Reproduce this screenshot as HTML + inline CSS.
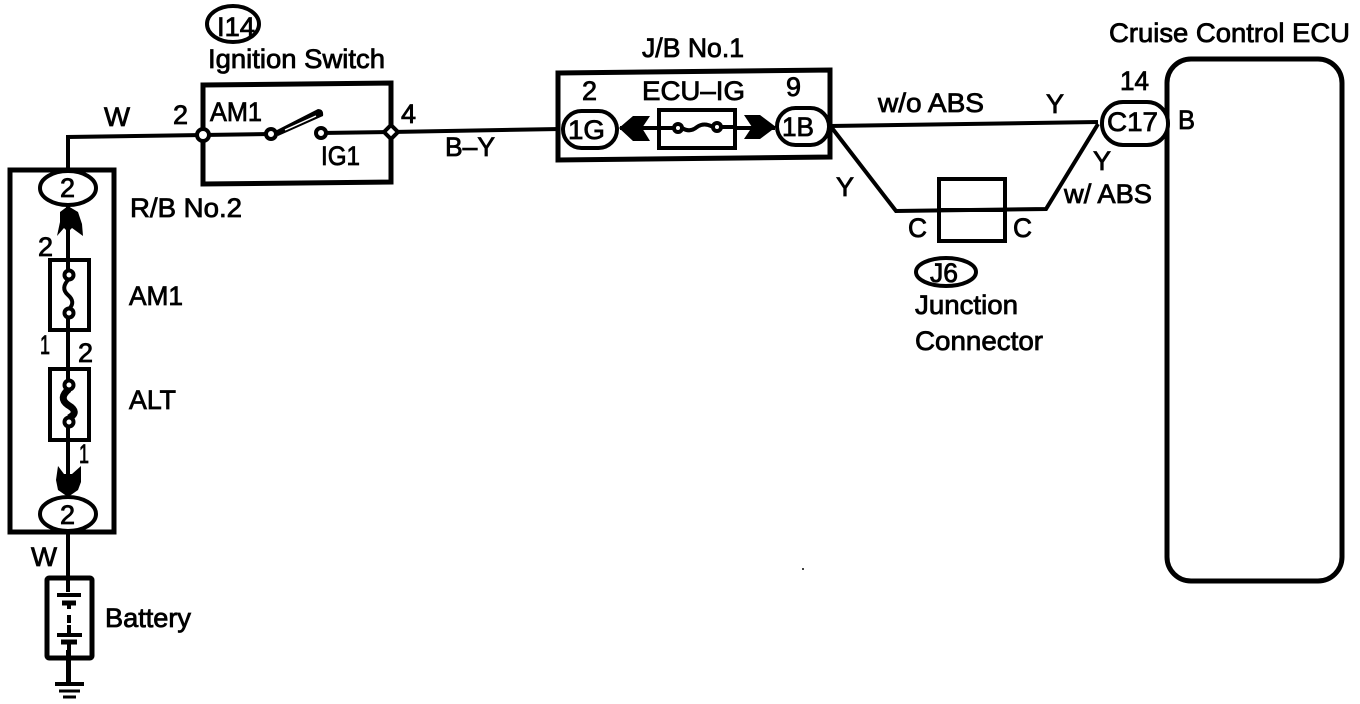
<!DOCTYPE html>
<html><head><meta charset="utf-8"><style>
html,body{margin:0;padding:0;background:#fff;width:1360px;height:704px;overflow:hidden}
svg{display:block}
text{font-family:"Liberation Sans",sans-serif;font-size:27px;fill:#000;stroke:#000;stroke-width:.8}
.l{fill:none;stroke:#000;stroke-width:4;stroke-linejoin:miter}
.w{fill:#fff;stroke:#000;stroke-width:4}
.t{fill:none;stroke:#000;stroke-width:5}
.f{fill:#000;stroke:none}
</style></head><body>
<svg width="1360" height="704" viewBox="0 0 1360 704" xmlns="http://www.w3.org/2000/svg">
<!-- wires -->
<path class="l" d="M68 170V137L203 135"/>
<path class="l" d="M203 135L270 134M321 133L391 132L560 129"/>
<path class="l" d="M68 205V500M68 530V578M68 650V682"/>
<path class="l" d="M620 128H775"/>
<path class="l" d="M830 126L1098 122"/>
<path class="l" d="M832 128L896 211L1046 209L1098 124"/>
<!-- ignition switch -->
<ellipse class="l" cx="233" cy="24" rx="26" ry="18"/>
<path class="t" d="M203 85L391 83V182L203 184Z"/>
<circle class="w" cx="203" cy="135" r="6"/>
<path class="w" d="M391 125L398 132L391 139L384 132Z"/>
<circle class="w" cx="271" cy="134" r="5"/>
<circle class="w" cx="321" cy="133" r="5"/>
<path class="f" d="M275 131L318 109Q324 109 323 116L278 136Z"/>
<path d="M285 130L316 116" stroke="#fff" stroke-width="1.5"/>
<!-- R/B box -->
<path class="t" d="M10 170H114V532H10Z"/>
<ellipse class="w" cx="68" cy="188" rx="28" ry="17" stroke-width="4"/>
<ellipse class="w" cx="68" cy="514" rx="28" ry="17" stroke-width="4"/>
<path class="f" d="M68 206L78 212L82 224L83 236L72 228L68 232L64 228L57 236L60 222L60 212Z"/>
<path class="f" d="M68 497L58 490L56 480L58 466L64 474H72L81 466L81 482L78 490Z"/>
<!-- fuses -->
<rect class="w" x="50" y="260" width="39" height="70"/>
<path class="l" d="M68 240V275M68 313V340"/>
<circle class="w" cx="69" cy="275" r="4.5"/>
<circle class="w" cx="69" cy="313" r="4.5"/>
<path class="l" d="M69 279Q60 288 68 295Q76 302 69 309"/>
<rect class="w" x="50" y="369" width="39" height="71"/>
<path class="l" d="M68 350V385M68 422V470"/>
<path d="M69 389Q58 398 68 405Q80 412 69 418" fill="none" stroke="#000" stroke-width="7"/>
<circle class="w" cx="69" cy="385" r="4.5"/>
<circle class="w" cx="69" cy="422" r="4.5"/>
<!-- battery -->
<rect class="t" x="47" y="578" width="45" height="80" rx="2"/>
<path class="l" d="M68 578V592"/>
<path class="l" d="M57 595H81"/>
<path d="M62 603H76" stroke="#000" stroke-width="5"/>
<path d="M69 605V609M69 615V623" stroke="#000" stroke-width="4"/>
<path class="l" d="M57 635H82M69 625V635"/>
<path d="M61 642H77" stroke="#000" stroke-width="5"/>
<path class="l" d="M69 642V682"/>
<path d="M55 684H84" stroke="#000" stroke-width="4"/>
<path d="M59 691H80" stroke="#000" stroke-width="3"/>
<path d="M63 697H76" stroke="#000" stroke-width="3"/>
<!-- J/B -->
<path class="t" d="M558 73L830 70V157L558 160Z"/>
<rect class="w" x="563" y="111" width="54" height="37" rx="18.5"/>
<rect class="w" x="777" y="108" width="52" height="37" rx="18.5"/>
<path class="f" d="M619 128L633 116H650L642 128L650 141H633Z"/>
<path class="f" d="M776 127L760 115H744L752 127L744 139H760Z"/>
<rect class="w" x="659" y="110" width="76" height="38"/>
<path class="l" d="M659 128H674M721 127H735"/>
<path class="l" d="M682 128Q690 133 697 127Q704 122 713 127" stroke-width="3"/>
<circle class="w" cx="678" cy="128" r="4" stroke-width="3"/>
<circle class="w" cx="717" cy="127" r="4" stroke-width="3"/>
<!-- J6 -->
<rect class="l" x="939" y="179" width="66" height="62"/>
<path class="l" d="M939 210H1005"/>
<ellipse class="l" cx="946" cy="272" rx="30" ry="14" stroke-width="3.5"/>
<!-- ECU -->
<rect class="t" x="1167" y="59" width="175" height="522" rx="24"/>
<rect class="w" x="1102" y="102" width="66" height="43" rx="21" stroke-width="5"/>
<!-- labels -->
<text x="217" y="36" textLength="38" lengthAdjust="spacingAndGlyphs">I14</text>
<text x="208" y="68" textLength="177" lengthAdjust="spacingAndGlyphs">Ignition Switch</text>
<text x="104" y="126" textLength="26" lengthAdjust="spacingAndGlyphs">W</text>
<text x="173" y="124">2</text>
<text x="210" y="121" textLength="52" lengthAdjust="spacingAndGlyphs">AM1</text>
<text x="321" y="165" textLength="39" lengthAdjust="spacingAndGlyphs">IG1</text>
<text x="401" y="123">4</text>
<text x="445" y="156" textLength="50" lengthAdjust="spacingAndGlyphs">B–Y</text>
<text x="130" y="217" textLength="112" lengthAdjust="spacingAndGlyphs">R/B No.2</text>
<text x="38" y="256">2</text>
<text x="129" y="305" textLength="54" lengthAdjust="spacingAndGlyphs">AM1</text>
<text x="40" y="354" textLength="10" lengthAdjust="spacingAndGlyphs">1</text>
<text x="78" y="362">2</text>
<text x="129" y="409" textLength="47" lengthAdjust="spacingAndGlyphs">ALT</text>
<text x="79" y="463" textLength="10" lengthAdjust="spacingAndGlyphs">1</text>
<text x="31" y="566" textLength="26" lengthAdjust="spacingAndGlyphs">W</text>
<text x="60" y="197">2</text>
<text x="60" y="524">2</text>
<text x="105" y="627" textLength="86" lengthAdjust="spacingAndGlyphs">Battery</text>
<text x="642" y="57" textLength="102" lengthAdjust="spacingAndGlyphs">J/B No.1</text>
<text x="582" y="100">2</text>
<text x="642" y="100" textLength="103" lengthAdjust="spacingAndGlyphs">ECU–IG</text>
<text x="786" y="96">9</text>
<text x="568" y="139" textLength="37" lengthAdjust="spacingAndGlyphs">1G</text>
<text x="782" y="136" textLength="32" lengthAdjust="spacingAndGlyphs">1B</text>
<text x="878" y="112" textLength="106" lengthAdjust="spacingAndGlyphs">w/o ABS</text>
<text x="1046" y="113" textLength="18" lengthAdjust="spacingAndGlyphs">Y</text>
<text x="836" y="196" textLength="18" lengthAdjust="spacingAndGlyphs">Y</text>
<text x="908" y="237" textLength="19" lengthAdjust="spacingAndGlyphs">C</text>
<text x="1013" y="237" textLength="19" lengthAdjust="spacingAndGlyphs">C</text>
<text x="930" y="282" textLength="28" lengthAdjust="spacingAndGlyphs">J6</text>
<text x="915" y="314" textLength="103" lengthAdjust="spacingAndGlyphs">Junction</text>
<text x="915" y="350" textLength="128" lengthAdjust="spacingAndGlyphs">Connector</text>
<text x="1109" y="42" textLength="241" lengthAdjust="spacingAndGlyphs">Cruise Control ECU</text>
<text x="1120" y="90" textLength="29" lengthAdjust="spacingAndGlyphs">14</text>
<text x="1107" y="131" textLength="51" lengthAdjust="spacingAndGlyphs">C17</text>
<text x="1178" y="129" textLength="17" lengthAdjust="spacingAndGlyphs">B</text>
<text x="1093" y="170" textLength="18" lengthAdjust="spacingAndGlyphs">Y</text>
<text x="1064" y="203" textLength="88" lengthAdjust="spacingAndGlyphs">w/ ABS</text>
<rect x="802" y="568" width="2" height="2" fill="#444"/>
</svg>
</body></html>
